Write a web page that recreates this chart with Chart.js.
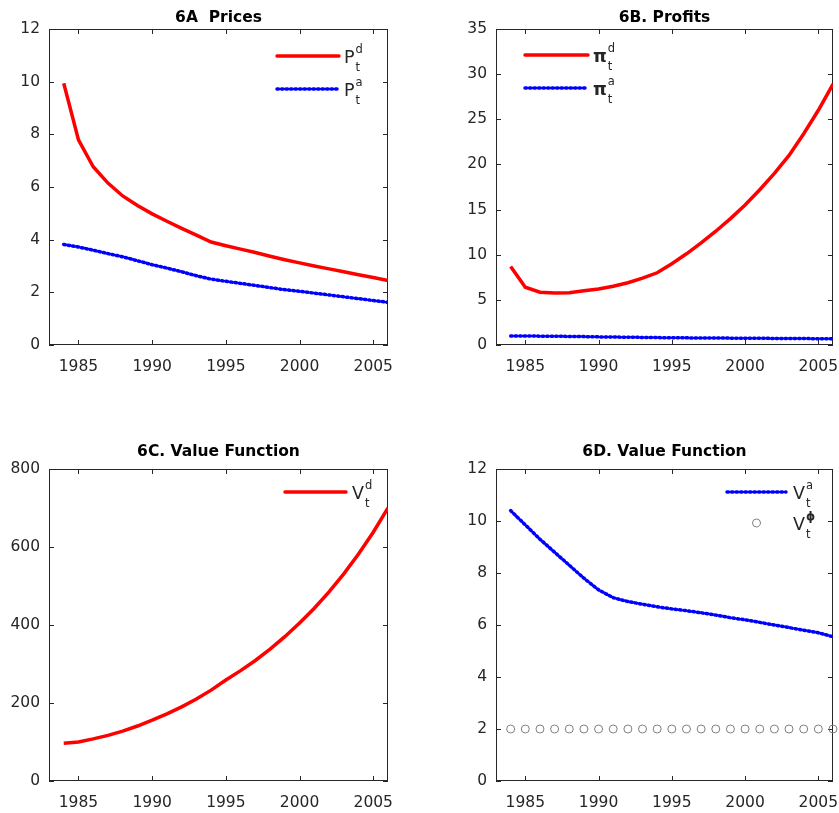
<!DOCTYPE html>
<html>
<head>
<meta charset="utf-8">
<script src="https://cdn.jsdelivr.net/npm/chart.js@4.4.0/dist/chart.umd.min.js"></script>
<style>
body { margin: 0; background: #fff; width: 839px; height: 813px; overflow: hidden; position: relative; }
.panel { position: absolute; }
</style>
</head>
<body>
<div class="panel" style="left:0px;top:0px;width:420px;height:400px"><canvas id="c6a"></canvas></div>
<div class="panel" style="left:420px;top:0px;width:419px;height:400px"><canvas id="c6b"></canvas></div>
<div class="panel" style="left:0px;top:420px;width:420px;height:393px"><canvas id="c6c"></canvas></div>
<div class="panel" style="left:420px;top:420px;width:419px;height:393px"><canvas id="c6d"></canvas></div>
<script>
var years = [1984,1985,1986,1987,1988,1989,1990,1991,1992,1993,1994,1995,
             1996,1997,1998,1999,2000,2001,2002,2003,2004,2005,2006];

var pricesD = [9.94,7.79,6.77,6.15,5.66,5.3,4.98,4.7,4.43,4.17,3.91,3.77,
               3.64,3.51,3.37,3.24,3.12,3.0,2.89,2.78,2.67,2.56,2.45];
var pricesA = [3.82,3.72,3.6,3.47,3.35,3.2,3.05,2.92,2.78,2.63,2.5,2.42,
               2.34,2.26,2.18,2.1,2.04,1.97,1.9,1.83,1.76,1.69,1.62];

var profitsD = [8.7,6.4,5.85,5.75,5.8,6.0,6.2,6.5,6.9,7.4,8.0,9.0,
                10.1,11.3,12.6,14.0,15.5,17.2,19.0,21.0,23.4,26.0,28.9];
var profitsA = [1.0,1.0,0.98,0.97,0.95,0.93,0.9,0.88,0.86,0.84,0.82,0.8,
                0.79,0.78,0.77,0.76,0.75,0.74,0.73,0.72,0.71,0.7,0.69];

var valueD = [97,100,108,117,128,141,156,172,190,210,233,259,
              283,309,338,370,405,443,485,531,582,638,700];
var valueA = [10.4,9.85,9.3,8.8,8.3,7.8,7.35,7.05,6.9,6.8,6.7,6.62,
              6.55,6.47,6.38,6.28,6.2,6.1,6.0,5.9,5.8,5.7,5.55];
var valuePhi = [2,2,2,2,2,2,2,2,2,2,2,2,2,2,2,2,2,2,2,2,2,2,2];

var xTicks = [1985,1990,1995,2000,2005];
var yTicksA = [0,2,4,6,8,10,12];
var yTicksB = [0,5,10,15,20,25,30,35];
var yTicksC = [0,200,400,600,800];
var yTicksD = [0,2,4,6,8,10,12];

var RED = '#ff0000', BLUE = '#0000ff', GRAY = '#808080', AXIS = '#262626';
var FONT = 'DejaVu Sans';

function pts(vals) {
	return years.map(function(y, i) { return {x: y, y: vals[i]}; });
}

function redLine(label, vals) {
	return {label: label, data: pts(vals), borderColor: RED, borderWidth: 3.5,
		pointRadius: 0, tension: 0, fill: false};
}
function blueLine(label, vals) {
	return {label: label, data: pts(vals), borderColor: BLUE, borderWidth: 3.5,
		borderDash: [1.5, 3], borderCapStyle: 'round',
		pointRadius: 0, tension: 0, fill: false};
}

// box, inward ticks and the TeX-like legend
var matlabAxes = {
	id: 'matlabAxes',
	beforeDatasetsDraw: function(chart) {
		var ctx = chart.ctx, a = chart.chartArea;
		var xs = chart.scales.x, ys = chart.scales.y;
		ctx.save();
		ctx.strokeStyle = AXIS;
		ctx.lineWidth = 1;
		ctx.beginPath();
		xs.ticks.forEach(function(t) {
			var px = Math.round(xs.getPixelForValue(t.value)) + 0.5;
			ctx.moveTo(px, a.bottom); ctx.lineTo(px, a.bottom - 5);
			ctx.moveTo(px, a.top); ctx.lineTo(px, a.top + 5);
		});
		ys.ticks.forEach(function(t) {
			var py = Math.round(ys.getPixelForValue(t.value)) + 0.5;
			ctx.moveTo(a.left, py); ctx.lineTo(a.left + 5, py);
			ctx.moveTo(a.right, py); ctx.lineTo(a.right - 5, py);
		});
		ctx.stroke();
		ctx.strokeRect(Math.round(a.left) + 0.5, Math.round(a.top) + 0.5,
			Math.round(a.width) - 1, Math.round(a.height) - 1);
		ctx.restore();
	},
	afterDraw: function(chart, args, opts) {
		if (!opts || !opts.items) return;
		var ctx = chart.ctx, a = chart.chartArea;
		var base = opts.fromRight ? a.right : a.left;
		ctx.save();
		opts.items.forEach(function(it, i) {
			var y = a.top + opts.rows[i];
			var x0 = base + opts.x0, x1 = base + opts.x1;
			if (it.kind === 'circle') {
				ctx.beginPath();
				ctx.arc((x0 + x1) / 2, y, 4, 0, Math.PI * 2);
				ctx.strokeStyle = it.color; ctx.lineWidth = 1;
				ctx.stroke();
			} else {
				ctx.beginPath();
				ctx.moveTo(x0, y); ctx.lineTo(x1, y);
				ctx.strokeStyle = it.color; ctx.lineWidth = 3.5;
				ctx.lineCap = 'round';
				ctx.setLineDash(it.dash || []);
				ctx.stroke();
				ctx.setLineDash([]);
			}
			var tx = base + opts.tx;
			ctx.fillStyle = AXIS;
			ctx.textBaseline = 'alphabetic';
			ctx.textAlign = 'left';
			ctx.font = (it.bold ? 'bold ' : '') + '17.5px ' + FONT;
			ctx.fillText(it.base, tx, y + 7);
			var w = ctx.measureText(it.base).width;
			ctx.font = (it.supBold ? 'bold ' : '') + '11.5px ' + FONT;
			ctx.fillText(it.sup, tx + w + 1, y - 3.5);
			ctx.font = '11.5px ' + FONT;
			ctx.fillText(it.sub, tx + w + 1, y + 14.5);
		});
		ctx.restore();
	}
};

function makePanel(id, title, titlePad, yW, xH, padRight, datasets, yTicks, legend) {
	var ctx = document.getElementById(id);
	return new Chart(ctx, {
		type: 'line',
		data: {datasets: datasets},
		plugins: [matlabAxes],
		options: {
			responsive: true,
			maintainAspectRatio: false,
			animation: false,
			layout: {padding: {left: 0, top: 0, bottom: 0, right: padRight}},
			plugins: {
				legend: {display: false},
				tooltip: {enabled: false},
				title: {display: true, text: title, color: '#000', fullSize: false,
					font: {family: FONT, size: 15.5, weight: 'bold'},
					padding: titlePad},
				matlabAxes: legend
			},
			scales: {
				x: {
					type: 'linear', min: 1983, max: 2006,
					grid: {display: false, drawTicks: false},
					border: {display: false},
					ticks: {color: AXIS, padding: 13, maxRotation: 0,
						font: {family: FONT, size: 15.5},
						callback: function(v) { return String(v); }},
					afterBuildTicks: function(s) {
						s.ticks = xTicks.map(function(v) { return {value: v}; });
					},
					afterFit: function(s) { s.height = xH; s.paddingLeft = 0; s.paddingRight = 0; }
				},
				y: {
					type: 'linear', min: yTicks[0], max: yTicks[yTicks.length - 1],
					grid: {display: false, drawTicks: false},
					border: {display: false},
					ticks: {color: AXIS, padding: 9,
						font: {family: FONT, size: 15.5}},
					afterBuildTicks: function(s) {
						s.ticks = yTicks.map(function(v) { return {value: v}; });
					},
					afterFit: function(s) { s.width = yW; s.paddingTop = 0; s.paddingBottom = 0; }
				}
			}
		}
	});
}

makePanel('c6a', '6A  Prices', {top: 8.2, bottom: 2.2}, 49, 55, 32,
	[redLine('Pd', pricesD), blueLine('Pa', pricesA)], yTicksA,
	{fromRight: true, x0: -111, x1: -49, tx: -44, rows: [27, 60], items: [
		{kind: 'line', color: RED, base: 'P', sup: 'd', sub: 't'},
		{kind: 'line', color: BLUE, dash: [1.5, 3], base: 'P', sup: 'a', sub: 't'}
	]});

makePanel('c6b', '6B. Profits', {top: 8.2, bottom: 2.2}, 76, 55, 6,
	[redLine('pid', profitsD), blueLine('pia', profitsA)], yTicksB,
	{fromRight: false, x0: 29, x1: 92, tx: 97, rows: [26, 59], items: [
		{kind: 'line', color: RED, base: 'π', bold: true, sup: 'd', sub: 't'},
		{kind: 'line', color: BLUE, dash: [1.5, 3], base: 'π', bold: true, sup: 'a', sub: 't'}
	]});

makePanel('c6c', '6C. Value Function', {top: 22.5, bottom: 7.9}, 49, 32, 32,
	[redLine('Vd', valueD)], yTicksC,
	{fromRight: true, x0: -103, x1: -42, tx: -36, rows: [23], items: [
		{kind: 'line', color: RED, base: 'V', sup: 'd', sub: 't'}
	]});

makePanel('c6d', '6D. Value Function', {top: 22.5, bottom: 7.9}, 76, 32, 6,
	[blueLine('Va', valueA),
	 {label: 'Vphi', data: pts(valuePhi), showLine: false, pointRadius: 4,
	  pointStyle: 'circle', pointBorderColor: GRAY, pointBackgroundColor: 'rgba(0,0,0,0)',
	  pointBorderWidth: 1, borderColor: GRAY, clip: false}], yTicksD,
	{fromRight: true, x0: -106, x1: -47, tx: -40, rows: [23, 54], items: [
		{kind: 'line', color: BLUE, dash: [1.5, 3], base: 'V', sup: 'a', sub: 't'},
		{kind: 'circle', color: GRAY, base: 'V', sup: 'ϕ', supBold: true, sub: 't'}
	]});
</script>
</body>
</html>
